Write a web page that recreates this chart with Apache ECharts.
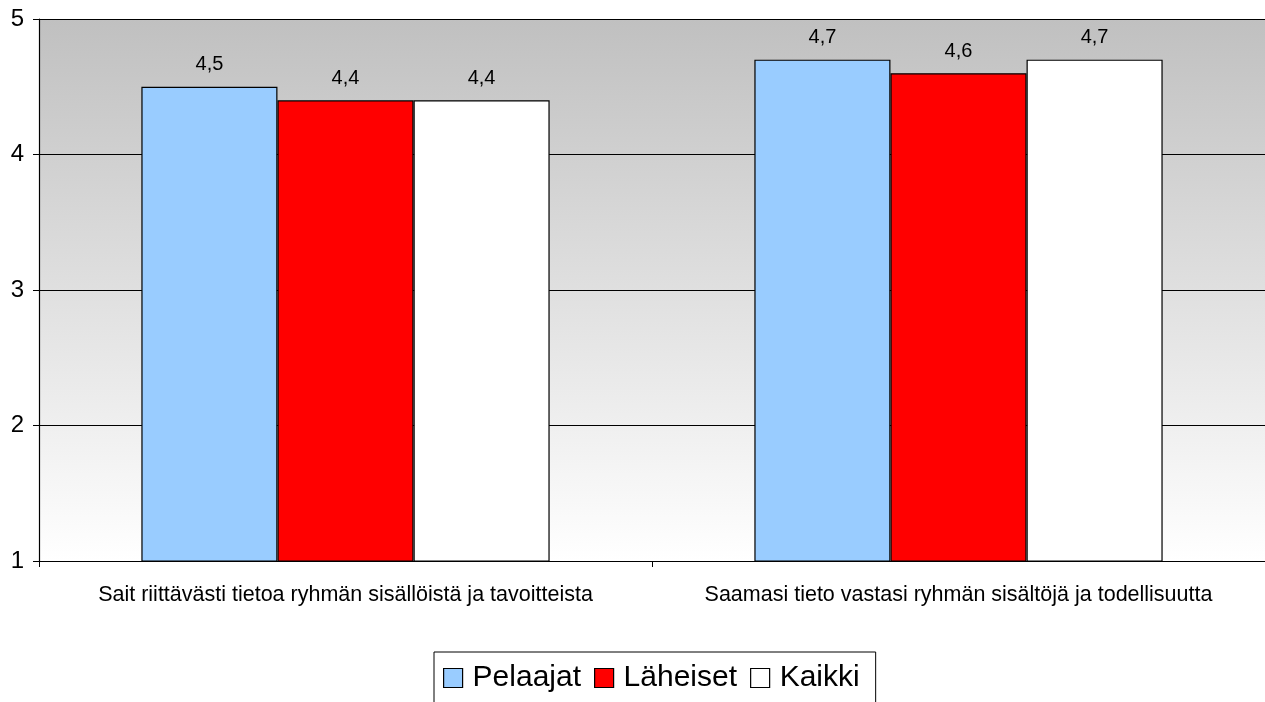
<!DOCTYPE html>
<html>
<head>
<meta charset="utf-8">
<script src="https://cdn.jsdelivr.net/npm/echarts@6/dist/echarts.min.js"></script>
<style>
  html, body { margin: 0; padding: 0; background: #fff; }
  #chart { width: 1265px; height: 702px; }
</style>
</head>
<body>
<div id="chart"></div>
<script>
// kaavion data
const categories = [
  'Sait riittävästi tietoa ryhmän sisällöistä ja tavoitteista',
  'Saamasi tieto vastasi ryhmän sisältöjä ja todellisuutta'
]
const pelaajat = [4.5, 4.7]
const laheiset = [4.4, 4.6]
const kaikki = [4.4, 4.7]
const yTicks = { min: 1, max: 5, interval: 1 }

const font = 'Liberation Sans, Arial, sans-serif'

const myChart = echarts.init(document.getElementById('chart'))

function barSeries(name, data, color) {
  return {
    name: name,
    type: 'bar',
    data: data,
    barGap: '0%',
    barCategoryGap: '33.4%',
    itemStyle: { color: color, borderColor: '#000', borderWidth: 1.2 },
    label: {
      show: true,
      position: 'top',
      distance: 12,
      color: '#000',
      fontSize: 20,
      fontFamily: font,
      formatter: (p) => String(p.value).replace('.', ',')
    }
  }
}

const option = {
  animation: false,
  backgroundColor: '#fff',
  grid: {
    left: 39,
    right: 0,
    top: 19,
    bottom: 141,
    show: true,
    borderWidth: 0,
    backgroundColor: new echarts.graphic.LinearGradient(0, 0, 0, 1, [
      { offset: 0, color: '#c0c0c0' },
      { offset: 1, color: '#ffffff' }
    ])
  },
  legend: {
    data: ['Pelaajat', 'Läheiset', 'Kaikki'],
    left: 434,
    top: 652,
    orient: 'horizontal',
    itemWidth: 19,
    itemHeight: 19,
    itemGap: 13,
    padding: [11, 16, 30, 9],
    borderColor: '#000',
    borderWidth: 1,
    icon: 'rect',
    textStyle: { fontSize: 30, fontFamily: font, color: '#000', padding: [0, 0, 0, 5] },
    itemStyle: { borderColor: '#000', borderWidth: 1.2 }
  },
  xAxis: {
    type: 'category',
    data: categories,
    axisLine: { show: true, lineStyle: { color: '#000', width: 1.2 } },
    axisTick: { show: true, length: 6, interval: 0, alignWithLabel: false, lineStyle: { color: '#000' } },
    axisLabel: { color: '#000', fontSize: 21.5, fontFamily: font, margin: 23, interval: 0 }
  },
  yAxis: {
    type: 'value',
    min: yTicks.min,
    max: yTicks.max,
    interval: yTicks.interval,
    axisLine: { show: true, lineStyle: { color: '#000', width: 1.2 } },
    axisTick: { show: true, length: 6, lineStyle: { color: '#000' } },
    axisLabel: { color: '#000', fontSize: 24, fontFamily: font, margin: 15 },
    splitLine: { show: true, lineStyle: { color: '#000', width: 1.2 } }
  },
  series: [
    barSeries('Pelaajat', pelaajat, '#99ccff'),
    barSeries('Läheiset', laheiset, '#ff0000'),
    barSeries('Kaikki', kaikki, '#ffffff')
  ]
}

myChart.setOption(option)
</script>
</body>
</html>
